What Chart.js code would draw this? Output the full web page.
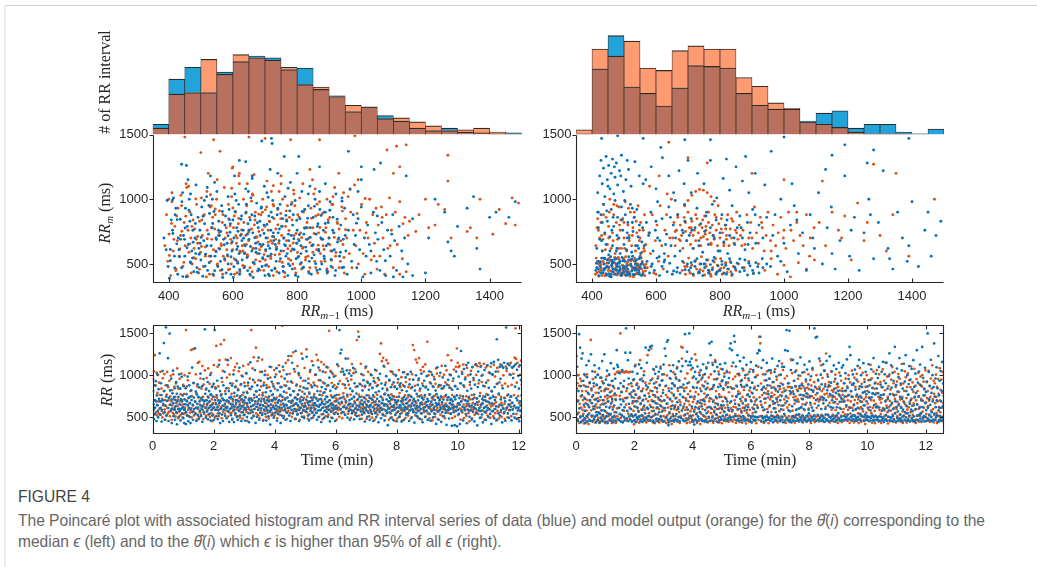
<!DOCTYPE html>
<html>
<head>
<meta charset="utf-8">
<script src="https://cdn.jsdelivr.net/npm/chart.js"></script>
<style>
html,body{margin:0;padding:0;background:#fff;}
#page{position:relative;width:1037px;height:567px;overflow:hidden;background:#fff;}
#topline{position:absolute;left:4px;top:5px;right:0;height:1px;background:#cfcfcf;}
#leftline{position:absolute;left:4px;top:5px;width:2px;bottom:0;background:#ececec;}
#fig{position:absolute;left:0;top:0;width:1037px;height:480px;}
#fig canvas{position:absolute;left:0;top:0;}
.cap{position:absolute;left:18px;white-space:nowrap;font-family:"Liberation Sans Narrow","Liberation Sans",Arial,sans-serif;transform-origin:0 50%;}
#figlab{top:487px;font-size:17px;line-height:20px;color:#444;}
#l1{top:510px;font-size:16.5px;line-height:20px;color:#666;}
#l2{top:531px;font-size:16.5px;line-height:20px;color:#666;}
</style>
</head>
<body>
<div id="page">
  <div id="topline"></div>
  <div id="leftline"></div>
  <div id="fig"></div>
  <div class="cap" id="figlab">FIGURE 4</div>
  <div class="cap" id="l1">The Poincaré plot with associated histogram and RR interval series of data (blue) and model output (orange) for the <i>θ̂</i>(<i>i</i>) corresponding to the</div>
  <div class="cap" id="l2">median <i>ϵ</i> (left) and to the <i>θ̂</i>(<i>i</i>) which <i>ϵ</i> is higher than 95% of all <i>ϵ</i> (right).</div>
</div>
<script>
// ================= DATA =================
// histogram bins (RR interval, ms): bin centres
const binCenters = [375,425,475,525,575,625,675,725,775,825,875,925,975,1025,1075,1125,1175,1225,1275,1325,1375,1425,1475];
// histogram counts
const histLeftData   = [13,70,85,53,79,92,99,97,82,84,57,49,29,35,24,17,8,5,8,3,2,1,2];
const histLeftModel  = [8,51,53,95,76,101,97,94,85,63,60,48,37,35,20,21,16,11,5,6,8,3,1];
const histRightData  = [1,83,125,60,52,36,59,87,86,84,52,37,32,32,17,27,30,8,13,13,3,1,7];
const histRightModel = [6,108,99,118,84,81,106,112,108,108,72,61,40,33,16,13,9,3,1,1,1,0,0];

// tick labels
const poincareTicksX = [400,600,800,1000,1200,1400];
const poincareTicksY = [500,1000,1500];
const timeTicksX = [0,2,4,6,8,10,12];
const timeTicksY = [500,1000,1500];

// Poincaré points (RR_{m-1}, RR_m) in ms, as flat x,y lists estimated from the figure
const poincareLeftData = [
385,700,392,610,398,480,402,390,408,840,412,760,418,560,422,930,425,655,428,420,395,990,415,1010,405,525,420,880,430,700,
432,610,436,845,440,470,443,1050,446,720,450,560,452,930,455,400,458,790,461,650,464,1000,467,515,470,880,472,600,475,760,478,440,441,980,449,690,466,830,474,545,
482,700,485,1110,488,470,491,860,494,620,497,760,500,530,503,940,506,405,509,680,512,810,515,575,518,1020,521,450,524,730,527,890,484,580,498,660,511,990,526,510,
532,640,535,780,538,420,541,905,544,560,547,700,550,1060,553,480,556,830,559,615,562,750,565,950,568,395,571,690,574,540,577,870,536,1000,548,595,558,720,566,455,575,800,543,1130,
582,660,585,500,588,920,591,745,594,420,597,600,600,840,603,700,606,1040,609,530,612,780,615,635,618,960,621,455,624,720,627,870,583,570,592,810,601,395,610,990,619,580,628,680,605,1180,615,505,
632,760,635,470,638,640,641,900,644,550,647,810,650,690,653,420,656,1010,659,600,662,740,665,510,668,870,671,660,674,970,677,445,636,580,645,730,654,840,663,395,672,620,679,780,640,1080,660,1160,
682,580,685,720,688,930,691,480,694,650,697,800,700,410,703,700,706,1050,709,560,712,870,715,620,718,760,721,450,724,990,727,680,684,830,693,540,702,610,711,420,719,900,726,740,698,1100,716,1230,
732,650,735,520,738,880,741,740,744,430,747,960,750,600,753,790,756,480,759,700,762,1020,765,560,768,830,771,410,774,680,777,910,736,620,745,770,755,850,764,640,773,500,779,1130,
782,720,785,460,788,880,791,610,794,990,797,540,800,760,803,400,806,680,809,850,812,580,815,1060,818,470,821,730,824,920,827,630,786,800,799,660,813,510,828,780,
832,690,835,950,838,520,841,780,844,420,847,640,850,860,853,570,856,1000,859,730,862,450,865,810,868,600,871,920,874,700,877,500,840,1100,870,1060,
882,760,885,540,888,900,891,640,894,430,897,820,900,700,903,980,906,480,909,600,912,860,915,740,918,410,921,1040,926,670,
932,560,936,800,940,470,944,690,948,930,952,600,956,420,960,760,965,1080,970,520,975,880,978,650,
982,720,986,470,990,850,995,610,1000,940,1005,400,1010,700,1015,560,1020,800,1025,650,1030,430,1038,900,1044,740,1048,520,
1052,690,1058,450,1064,820,1070,610,1076,410,1082,760,1090,560,1098,880,1104,680,1110,450,1118,790,1126,600,1135,700,1145,500,
440,1270,455,1260,620,1300,640,1290,690,1450,720,1470,722,1430,760,1330,805,1330,870,1250,960,1370,1000,1250,1040,1230,1060,1280,1000,1150,1140,1180,740,1200,660,1180,530,1180,460,1150,800,1200,
1160,850,1200,430,1230,1000,1260,900,1270,670,1280,600,1290,560,1300,790,1330,930,1350,1020,1360,620,1370,460,1400,860,1420,900,1460,860,1480,980,1130,400,1100,400,1160,410,1210,700,
405,612,413,735,419,468,426,842,433,555,437,690,444,402,451,778,457,625,463,915,
469,508,476,668,483,812,489,436,495,575,501,705,507,868,513,482,519,640,525,952,
531,560,537,812,543,448,549,688,555,760,561,520,567,905,573,648,579,430,585,718,
589,842,594,555,598,672,603,478,607,905,612,612,616,752,621,420,625,845,629,530,
633,698,637,585,642,962,646,448,650,760,655,635,659,880,663,512,668,702,672,590,
676,818,680,462,684,652,689,940,693,548,697,735,702,488,706,805,710,640,714,408,
719,575,723,860,727,710,731,462,735,612,740,930,744,680,748,540,752,792,757,442,
761,648,765,875,769,580,773,730,778,485,782,960,786,615,790,695,795,412,799,838,
803,552,807,725,812,640,816,905,820,475,824,775,829,598,833,852,837,430,841,705,
846,545,850,648,854,945,858,502,863,790,867,612,871,458,875,875,880,690,884,560,
888,812,893,448,897,655,902,915,906,535,911,760,916,610,920,450,925,845,930,700,
935,590,940,985,945,475,950,720,412,995,468,1040,520,1090,585,1020,648,1060,710,1015,
772,1085,835,1040,888,1120,940,1010,990,1060,1050,870,1075,525,1095,730,1030,600,985,815
];
const poincareLeftModel = [
388,640,393,880,397,520,401,730,406,410,410,980,414,600,419,790,423,460,427,680,400,1000,425,870,
433,560,437,720,440,950,444,480,448,820,451,640,454,1120,457,410,460,760,463,590,466,900,469,700,473,500,476,840,479,620,438,1030,456,1090,470,430,
481,770,484,540,487,960,490,660,493,430,496,830,499,590,502,1010,505,720,508,480,511,880,514,630,517,400,520,760,523,1200,526,560,529,940,486,690,503,840,519,1060,
531,520,534,690,537,860,540,410,543,770,546,600,549,1000,552,500,555,720,558,910,561,450,564,640,567,820,570,560,573,1090,576,700,533,950,545,880,556,620,568,420,579,780,551,1150,
581,740,584,560,587,850,590,460,593,690,596,1020,599,610,602,780,605,420,608,900,611,660,614,520,617,810,620,1120,623,590,626,730,586,960,595,500,604,870,613,700,622,440,629,640,598,1240,618,1180,
631,600,634,820,637,480,640,720,643,950,646,560,649,680,652,860,655,410,658,770,661,1040,664,620,667,500,670,900,673,710,676,580,633,1000,642,650,651,760,660,440,669,840,678,670,645,1120,666,1190,
681,750,684,520,687,880,690,640,693,1000,696,450,699,790,702,600,705,940,708,700,711,480,714,830,717,560,720,1060,723,660,726,410,683,610,692,900,701,530,710,760,718,680,728,850,706,1140,725,960,
731,570,734,770,737,440,740,920,743,660,746,520,749,850,752,720,755,1000,758,600,761,400,764,790,767,680,770,950,773,540,776,860,733,690,744,1060,757,480,766,910,778,640,750,1180,
781,600,784,840,787,500,790,720,793,950,796,430,799,660,802,880,805,560,808,1010,811,740,814,460,817,620,820,900,823,780,826,530,789,1070,804,690,818,1120,829,690,
831,820,834,560,837,700,840,470,843,930,846,640,849,780,852,1040,855,520,858,870,861,610,864,430,867,740,870,980,873,580,876,690,848,1150,866,880,
881,640,884,900,887,520,890,780,893,1000,896,440,899,700,902,860,905,600,908,960,911,470,914,740,917,1090,920,560,925,820,928,690,
931,770,935,520,939,940,943,650,947,430,951,850,955,700,959,1020,963,580,967,900,971,470,975,760,979,1110,945,1050,
983,640,987,890,991,500,996,760,1001,960,1006,580,1011,420,1016,820,1021,700,1026,1000,1031,530,1036,880,1041,660,1046,930,1049,460,
1053,800,1058,560,1063,940,1068,700,1073,420,1078,880,1083,620,1088,1010,1094,760,1100,470,1106,900,1112,650,1120,980,1128,540,1136,860,1146,720,
450,1480,540,1460,560,1370,650,1480,700,1470,780,1460,870,1460,980,1490,1110,1410,1140,1420,1270,1340,1080,1380,930,1200,990,1150,1100,1200,1270,1140,500,1360,600,1250,620,1200,750,1120,840,1230,1120,1250,
1180,880,1200,1000,1210,780,1230,800,1240,960,1260,920,1280,700,1330,750,1340,780,1360,700,1370,1000,1410,730,1430,920,1450,810,1470,1010,1480,800,1490,970,1150,830,1170,750,1140,440,1120,420,
402,565,409,812,416,690,422,448,429,930,434,615,441,752,447,512,453,868,459,402,
465,655,472,790,478,548,484,1002,490,712,496,458,502,635,508,872,514,560,520,695,
527,420,533,780,539,610,545,925,551,492,557,742,563,655,569,880,575,528,581,610,
586,455,591,795,595,660,600,932,604,540,609,718,613,432,618,852,622,598,627,762,
631,488,636,648,640,892,645,572,649,745,653,470,658,985,662,618,667,802,671,530,
675,705,680,885,684,452,688,632,692,762,697,572,701,918,705,495,710,668,714,825,
718,542,723,712,727,948,731,468,736,632,740,802,745,575,749,890,754,512,758,698,
762,432,767,842,771,618,775,758,780,528,784,975,788,662,793,465,797,735,801,588,
806,862,810,498,814,702,819,628,823,918,827,552,832,780,836,442,840,665,845,852,
849,590,853,735,858,470,862,962,866,645,871,782,875,518,879,890,884,612,888,745,
893,462,897,842,902,648,907,528,911,960,916,705,921,588,926,812,931,470,936,678,
941,908,946,550,951,765,410,1050,462,1100,530,1035,596,1085,662,1030,726,1105,
790,1040,856,1080,912,1020,965,1075,1015,740,1040,560,1065,860,1090,640,1012,1005,1130,810
];
const poincareRightData = [
412,450,418,520,422,410,426,480,430,545,434,432,438,500,441,465,445,418,448,530,452,470,455,405,458,555,461,490,464,440,467,515,470,460,473,420,476,540,479,480,
482,430,485,505,488,455,491,415,494,550,497,470,500,440,503,520,506,410,509,485,512,460,515,530,518,425,521,500,524,445,527,560,530,470,533,415,536,525,539,455,
542,490,545,430,548,540,551,470,554,410,557,505,416,470,428,430,440,540,452,425,464,505,476,450,488,520,500,480,512,425,524,535,536,450,548,420,460,400,495,430,
415,620,420,780,424,690,428,880,432,600,436,960,440,740,444,650,448,830,452,570,456,710,460,920,464,640,468,790,472,990,476,600,480,860,484,700,488,580,492,940,
496,760,500,650,504,880,508,610,512,820,516,700,520,960,524,590,528,750,532,860,536,640,540,920,544,710,548,800,552,580,556,670,432,820,456,600,478,720,502,990,
526,820,546,620,418,900,466,860,510,740,
418,1050,424,1180,428,1300,432,1120,436,1240,440,1020,444,1330,448,1150,452,1260,456,1080,460,1200,464,1310,468,1040,472,1170,476,1280,480,1110,486,1220,492,1340,498,1060,506,1150,
514,1230,522,1100,534,1290,548,1180,560,1120,
565,470,572,520,580,430,588,500,595,450,603,545,611,410,619,480,627,530,635,440,643,505,651,420,659,560,667,470,675,430,683,520,691,455,698,500,610,555,655,445,
563,640,570,820,577,720,584,900,591,600,598,760,605,980,612,680,619,850,626,580,633,730,640,940,647,640,654,800,661,700,668,880,675,600,682,760,689,960,696,680,
600,830,630,650,660,990,690,830,580,740,
568,1150,585,1250,600,1080,620,1320,640,1180,655,1050,672,1220,688,1120,700,1300,615,1400,
703,450,710,510,716,420,722,480,728,540,734,440,740,500,746,410,752,470,758,530,764,430,770,495,776,455,782,550,788,420,794,485,800,450,806,520,812,430,818,490,
824,460,830,540,838,420,846,475,854,505,862,440,870,470,878,530,886,415,894,485,902,450,912,510,922,430,934,470,946,500,
704,720,710,850,716,620,722,780,728,930,734,680,740,810,746,590,752,750,758,900,764,650,770,780,776,960,782,700,788,840,794,600,800,740,806,880,812,670,818,800,
824,580,830,720,838,950,846,650,854,780,862,870,870,700,878,610,886,820,894,740,902,920,912,660,922,800,934,700,946,860,
710,1050,730,1200,750,1120,770,1300,790,1010,810,1160,830,1070,850,1250,870,1140,890,1050,910,1200,940,1110,
958,480,965,720,972,880,980,560,990,1000,1000,660,1010,440,1020,800,1032,950,1045,580,1058,740,1070,450,1082,880,1095,620,1108,1050,1120,500,1135,780,1148,940,1160,460,1175,680,
1190,1180,1205,560,1220,860,1235,450,1250,740,1265,1000,1280,540,1295,820,1310,1220,1325,620,1340,460,1355,900,1370,700,1385,520,1400,980,1420,480,1440,760,1460,560,1475,720,1490,830,
1260,1280,1130,1230,
430,1470,480,1490,560,1470,690,1460,770,1460,1000,1480,1390,1470,1190,1420,1280,1380,960,1370,880,1330,1150,1340,820,1310,
420,460,426,512,433,430,439,545,446,478,452,508,459,420,465,462,471,535,478,498,
484,445,490,412,497,525,503,468,509,440,515,555,521,488,528,418,534,470,540,532,
546,450,553,498,559,425,414,505,437,452,462,528,486,478,511,415,536,498,549,548,
430,680,446,910,462,760,478,620,494,840,510,700,526,930,542,640,558,780,450,1100,
470,1250,490,1180,510,1300,708,470,722,520,736,432,750,500,764,452,778,525,792,440,
806,495,820,420,834,510,848,462,862,538,876,448,890,505,904,425,918,478,932,540,
712,760,734,640,756,870,778,720,800,600,822,840,844,700,866,780,888,650,910,880,
585,480,625,515,665,438,605,700,645,860,685,740,990,520,1040,840,1090,700,1150,580,
1210,760,1270,880,1330,540,1390,640,1450,900,1025,1120
];
const poincareRightModel = [
411,420,415,470,419,520,423,440,427,495,431,410,435,545,439,465,443,425,447,505,451,450,455,530,459,410,463,480,467,440,471,550,475,470,479,415,483,510,487,450,
491,430,495,490,499,540,503,420,507,470,511,515,515,440,519,405,523,485,527,455,531,525,535,420,539,470,543,500,547,435,551,560,555,460,559,415,563,490,567,445,
413,545,421,405,429,465,437,500,445,410,453,475,461,520,469,420,477,455,485,535,493,410,501,460,509,500,517,420,525,470,533,545,541,430,549,480,557,520,565,410,
425,520,449,480,473,505,497,455,521,525,545,465,569,500,481,430,505,555,529,400,
412,640,416,780,420,900,424,700,428,820,432,600,436,960,440,730,444,860,448,650,452,790,456,1000,460,620,464,740,468,880,472,580,476,820,480,690,484,940,488,760,
492,620,496,850,500,700,504,980,508,600,512,800,516,720,520,900,524,640,528,780,532,860,536,600,540,740,544,950,548,680,552,820,556,590,560,760,564,880,568,650,
418,850,430,720,442,610,454,900,466,680,478,950,490,840,502,620,514,930,526,720,538,830,550,700,562,620,434,690,486,800,
573,470,578,740,583,580,588,880,593,430,598,680,603,800,608,520,613,950,618,640,623,460,628,760,633,880,638,560,643,700,648,1000,580,1100,610,1180,635,1040,600,420,
652,700,656,820,660,640,664,760,668,880,672,690,676,800,680,720,684,620,688,860,692,750,696,680,700,900,704,780,708,650,712,830,716,720,720,760,724,680,728,850,
732,740,736,800,740,640,744,780,748,710,752,870,756,760,760,690,764,820,768,740,772,660,776,800,780,720,784,880,788,760,792,640,796,810,800,700,804,850,808,740,
812,660,816,800,820,720,824,880,828,640,832,770,836,700,840,830,844,660,848,760,852,900,856,690,860,800,864,720,868,640,710,780,746,840,782,690,818,770,754,730,
682,450,687,510,692,420,697,480,702,545,707,430,712,490,717,410,722,525,727,460,732,430,737,500,742,555,747,445,752,415,757,480,762,530,767,440,772,405,777,470,
782,515,787,430,792,490,797,450,802,540,807,420,812,470,817,505,822,435,827,460,832,520,837,410,842,480,850,450,858,500,
700,990,712,1030,724,1060,736,1075,748,1070,760,1050,772,1020,782,985,690,950,794,950,
872,760,878,650,884,880,890,700,896,820,902,620,908,940,914,740,920,660,926,860,932,780,938,600,944,720,950,900,958,680,966,800,974,640,982,740,990,860,998,700,
1006,620,1014,900,1022,760,1030,680,1040,820,1050,720,1060,640,1070,880,1082,700,1094,780,
876,470,890,520,905,430,920,500,940,450,960,540,980,420,1000,490,1020,400,1045,510,1070,460,1095,530,
1110,820,1130,640,1150,900,1170,760,1190,870,1210,530,1230,970,1250,680,1280,1270,1300,720,1340,880,1350,1200,1390,560,1470,1000,1120,1140,
640,1440,700,1320,760,1280,900,1200,1000,1150,
416,432,422,498,428,452,434,520,440,410,446,478,452,540,458,445,464,505,470,425,
476,490,482,550,488,462,494,418,500,528,506,448,512,492,518,415,524,538,530,460,
536,508,542,425,548,485,554,545,560,440,566,470,
420,760,436,880,452,700,468,960,484,620,500,820,516,680,532,900,548,760,564,600,
660,750,676,680,692,820,708,740,724,880,740,700,756,790,772,650,788,860,804,770,
820,690,836,850,852,740,668,860,716,620,764,900,812,640,
690,480,706,430,722,520,738,455,754,500,770,420,786,540,802,465,818,510,834,440,
900,700,930,820,960,600,1000,760,1040,900,1080,560,1180,700,1260,820,1320,600
];

// RR interval series (ms) for the time plots, estimated from the figure
const rrLeftData = [
812,655,590,478,702,880,615,540,930,688,455,760,1010,642,575,498,835,720,1262,690,
530,612,905,765,448,588,1050,702,660,1384,812,560,470,640,1572,745,520,695,880,1204,
610,455,730,1498,820,650,575,960,710,430,602,785,1055,668,512,740,590,845,470,705,
630,918,560,780,415,690,865,598,742,505,1012,655,578,840,462,715,600,982,688,545,
760,625,488,870,590,
430,712,590,655,845,418,560,775,690,520,985,640,452,730,612,880,505,668,745,430,
590,820,705,1092,562,648,470,910,735,598,1322,685,540,805,612,455,770,660,892,528,
615,742,480,855,690,575,1020,640,512,730,598,870,445,705,632,955,560,688,1548,780,
612,495,840,702,568,660,920,475,735,608,812,540,690,1005,625,460,772,585,860,650,
520,745,612,898,470,
1540,705,588,842,655,512,760,935,620,478,700,582,1125,668,545,812,430,690,758,602,
968,532,725,640,455,880,705,590,1042,660,515,778,612,845,488,702,625,1180,570,690,
812,445,735,598,905,660,525,742,610,878,480,715,652,1010,585,442,790,628,860,548,
705,672,935,505,758,615,468,822,690,575,1090,640,520,748,602,895,455,712,630,988,
560,680,795,525,702,
612,870,458,735,590,1022,668,502,790,625,912,548,705,440,842,675,1155,580,722,630,
488,865,702,560,945,645,515,768,598,1062,690,432,810,625,742,505,880,660,588,1210,
712,470,825,640,552,935,690,605,1040,528,760,642,458,880,715,590,1005,672,540,798,
615,460,850,702,578,960,632,510,745,688,1102,565,412,812,650,590,922,705,535,772,
620,868,495,730,605,
980,552,712,640,1085,590,458,822,672,540,905,705,620,1045,568,768,432,690,858,612,
520,745,1102,660,492,805,628,960,585,710,470,875,648,1012,552,735,610,1230,690,520,
842,615,768,455,925,670,588,1150,702,545,812,640,1075,598,730,480,1290,665,572,890,
712,530,768,642,1025,590,455,822,685,612,970,548,740,660,505,1198,705,580,852,625,
490,778,640,935,568,
710,1220,598,842,672,520,905,645,462,780,690,1062,575,735,612,488,858,702,560,1120,
640,745,525,880,668,598,1008,552,722,640,470,812,695,580,1092,625,505,768,650,940,
588,715,442,860,672,610,1045,538,790,655,492,902,712,578,835,620,1100,560,742,680,
505,880,635,588,972,702,450,815,660,565,1035,612,738,490,862,648,590,985,540,755,
628,455,842,690,602,
765,1130,612,540,898,672,1540,725,1262,598,1305,682,1078,560,1045,742,620,1012,885,530,
1200,690,612,1060,768,495,932,645,572,1022,705,468,842,660,588,995,720,545,812,632,
1088,580,745,475,905,668,602,1038,552,782,640,512,868,712,590,1460,625,740,478,892,
655,568,1015,702,532,820,648,598,942,560,735,680,448,875,612,1105,580,762,640,505,
912,690,552,828,618,
730,468,895,642,575,1002,712,540,848,622,760,455,930,680,598,1065,548,795,652,502,
872,720,585,968,635,440,810,690,562,1018,612,745,488,902,668,590,842,705,525,1112,
640,772,462,885,655,578,990,712,548,822,628,405,765,690,602,945,558,732,660,492,
858,712,580,1040,622,750,470,915,642,588,860,705,528,1002,675,612,452,838,690,565,
955,618,745,505,880,
642,538,905,690,612,448,822,705,580,1035,652,738,470,868,620,592,975,712,530,810,
668,602,1012,548,765,640,455,892,705,582,1040,628,742,498,858,672,590,948,560,720,
642,435,818,690,605,1000,552,778,635,512,885,702,575,962,620,748,480,842,668,598,
1020,545,730,652,440,875,710,585,935,618,765,502,855,680,572,990,642,720,468,830,
695,610,1048,540,772,
628,458,902,685,572,1008,650,742,498,862,612,588,952,705,540,818,668,420,775,642,
1095,568,730,655,470,882,702,588,1030,615,748,445,842,676,560,975,628,710,512,868,
640,595,1112,552,765,632,410,890,705,582,945,612,738,485,852,668,598,1002,542,715,
650,398,828,690,612,962,560,742,628,405,870,712,575,1045,618,760,392,838,665,588,
985,540,728,650,418,
905,1290,688,572,1018,625,748,462,880,1075,612,590,952,702,538,1122,660,428,815,692,
1150,580,742,630,505,920,1010,588,842,640,472,1098,715,565,968,622,770,450,888,655,
602,1130,548,725,678,402,860,1045,585,940,610,752,492,1102,648,575,995,532,718,660,
438,875,702,610,1062,560,745,625,468,912,690,580,1118,612,765,505,850,678,592,1025,
540,730,1145,420,808,
665,1008,572,742,1160,488,860,705,598,1045,630,1430,468,902,1185,545,782,640,1100,520,
958,712,585,1118,642,438,845,1090,602,1150,560,728,688,458,1570,1082,612,1138,545,
770,650,492,1120,702,585,1005,625,748,462,1095,672,590,968,540,1110,638,495,865,1132,
612,728,480,1065,702,580,995,615,840,452,1120,690,575,942,640,
760,512,905,688,598,1040,625,452,872,712,560,980,640,735,488,850,672,602,1015,548,
702,585,918,640,478,1030,695,560,862,612
];
const rrLeftModel = [
952,1048,612,532,1240,705,878,560,1032,648,520,790,1005,688,545,912,602,765,1042,530,
688,842,575,720,498,965,640,548,812,1015,592,705,468,880,635,522,770,1040,610,545,
858,702,565,935,648,512,748,995,590,688,470,822,640,552,1012,715,530,865,612,590,
742,508,902,668,548,1082,635,710,488,840,602,565,958,690,522,775,648,1020,540,708,
612,498,885,655,540,
780,1000,615,552,1540,702,868,525,648,940,590,732,512,1025,668,555,812,1302,610,498,
752,1310,640,572,905,522,1320,688,548,1012,612,785,468,868,1148,598,735,502,1160,652,
560,962,710,530,842,615,1110,585,742,478,890,655,540,1058,700,612,828,515,968,640,
582,745,1082,532,680,612,898,505,765,642,1030,548,712,590,452,875,668,530,1122,618,
740,498,855,672,1350,
590,732,1102,545,868,640,512,1180,702,598,1370,620,775,488,920,1052,568,705,1420,632,
542,812,1188,690,580,972,612,1125,508,845,672,560,1010,725,598,1205,548,780,635,470,
902,688,572,1060,615,748,1098,530,865,652,592,1140,705,512,835,620,1048,582,730,662,
495,885,700,558,998,628,765,482,1112,645,590,912,532,742,670,610,1025,565,802,650,
458,878,1130,595,725,
612,960,548,835,1540,702,588,1082,640,512,1215,732,598,915,662,1330,545,808,625,1170,
688,525,942,610,765,492,1042,655,580,868,722,1188,548,790,636,470,912,698,575,1052,
628,742,505,882,664,592,1005,552,728,640,485,858,705,580,972,612,1098,522,762,690,
552,895,638,710,1062,518,842,672,595,1010,560,735,628,488,905,688,572,1120,605,752,
528,862,650,590,985,
1590,705,582,1062,645,512,880,728,602,1148,560,792,640,478,925,1180,575,842,612,1018,
690,548,762,1230,632,505,912,688,1275,570,810,655,1045,598,738,480,875,662,590,1110,
540,772,628,1002,585,720,470,868,698,612,1258,552,805,640,935,592,732,508,1088,668,
575,842,625,1310,558,745,690,482,960,612,798,535,1040,682,598,882,640,1168,552,725,
662,498,912,610,775,
585,1005,640,732,1245,552,868,1180,628,502,942,712,1060,580,810,648,1158,535,762,690,
478,915,618,1128,572,798,655,1035,512,745,680,875,598,1092,625,530,1530,702,588,1052,
642,760,495,908,668,575,1015,612,738,545,882,690,602,995,558,722,640,472,860,708,
585,1110,615,768,505,932,652,590,1040,548,730,670,488,895,622,785,560,1005,640,715,
528,850,675,598,962,
612,748,1200,542,885,662,598,1060,625,770,492,948,1135,575,812,648,1025,560,738,690,
1072,528,862,612,1420,705,585,1520,640,768,520,902,678,592,1138,615,745,482,875,660,
578,1002,622,735,548,860,1088,598,712,655,480,925,630,572,1040,688,758,512,880,642,
590,1010,552,728,670,495,852,705,620,968,575,742,645,472,912,688,560,1055,612,768,
530,882,650,598,945,
642,1255,580,1380,612,1168,728,540,1208,662,595,1102,640,782,515,912,1180,575,840,650,
1142,598,755,470,935,688,612,1048,545,772,630,498,890,712,580,1015,620,745,458,868,
675,598,995,548,740,652,485,912,702,570,1062,612,788,505,858,640,588,978,552,725,
668,462,882,700,602,1038,575,760,625,492,920,665,545,1012,618,738,520,862,690,578,
952,630,755,482,845,
650,598,1012,1360,702,572,1302,640,875,522,1188,668,590,1152,612,748,495,942,1205,580,
818,645,1062,548,760,678,472,902,1100,612,1045,562,740,660,1130,508,865,632,580,1400,
688,545,1002,622,770,488,915,655,598,1038,578,732,648,462,870,712,590,982,545,755,
628,505,898,1082,585,1020,612,742,478,862,668,572,992,640,718,530,880,602,1112,655,
735,512,845,598,1008,
612,748,488,915,662,578,1058,640,735,1240,552,880,625,590,1010,705,542,845,1178,612,
765,490,932,650,588,1068,618,742,508,872,1102,575,1320,640,1150,528,1098,670,1112,602,
758,472,905,688,592,1042,555,718,1128,652,490,862,705,582,975,628,748,515,1088,640,
595,1000,548,725,660,452,885,712,575,1052,618,765,488,1098,668,590,942,610,735,530,
1125,652,600,1005,568,
722,1108,648,540,902,685,1145,575,788,622,1112,498,920,668,1005,580,748,1138,612,470,
868,705,1092,552,775,640,1120,520,940,682,1035,598,722,655,492,1102,628,815,572,1010,
640,755,512,1125,660,598,985,548,738,680,462,895,1088,575,1045,622,768,488,915,650,
1132,560,742,672,505,878,1098,612,1000,545,732,660,478,902,1105,590,1052,615,758,500,
868,1140,640,585,1012,
655,742,1148,512,885,672,1090,598,1018,628,765,1210,1560,1195,540,912,1148,610,752,480,
1102,668,585,1005,642,1175,518,888,700,1060,575,742,1128,662,492,1000,1098,612,995,548,
732,1042,685,990,600,855,1008,640,728,1005,565,812,990,702,612,1020,548,780,1010,665,
592,1000,640,488,995,700,
578,1022,652,742,512,868,690,592,998,615,742,488,905,662,570,1030,620,748,512,885,
640,712,1002,558,822,675,590,945,618,760,470,888,655,602,1015,548,735,680,512,902
];
const rrRightData = [
1000,472,1102,538,690,455,812,1490,605,1330,498,872,440,1200,760,1262,515,935,462,648,
1012,488,575,720,430,866,1120,512,978,655,448,790,532,1172,620,470,915,705,458,1250,
842,520,668,1048,452,760,598,905,478,1120,630,505,975,712,442,560,882,525,1005,688,
465,790,1082,548,615,438,858,742,495,972,580,1170,460,705,525,905,655,1250,482,830,
570,445,948,625,508,1055,760,430,688,885,540,1008,612,470,798,530,1145,665,455,932,
718,498,592,870,442,1080,640,515,782,960,460,705,558,1300,1125,482,1100,845,612,468,
1025,540,712,905,450,652,798,520,1062,585,438,872,690,505,935,618,462,1270,1560,728,
488,845,575,1180,452,962,660,510,780,1270,470,598,905,535,740,445,1042,688,512,818,
952,462,630,1108,525,770,440,690,885,498,1020,612,475,842,565,1130,505,728,948,455,
665,1085,520,812,448,590,930,708,482,1002,638,462,758,545,1330,880,495,1150,612,470,
855,598,1300,512,745,1340,458,940,622,1350,505,812,690,460,1075,575,902,440,760,1018,
532,668,1102,485,845,618,962,452,735,1042,560,478,885,705,1082,512,630,935,468,1010,
580,790,1128,448,702,1320,610,1230,875,498,1400,662,1420,470,405,438,812,545,968,718,
485,1050,598,842,455,905,640,1120,512,770,448,882,620,1012,475,725,958,538,1082,680,
462,845,598,1165,505,935,452,772,645,1048,490,860,580,1110,742,470,890,628,455,812,
1490,532,1168,700,462,1280,905,590,1120,488,1500,1160,742,1120,515,1200,628,470,1088,860,
445,985,568,412,745,1040,620,470,958,535,852,452,1105,690,508,925,598,475,1002,672,
560,1060,482,812,630,458,972,705,1132,520,868,455,690,1015,585,462,835,1082,548,760,
445,902,1150,622,505,1380,725,458,1240,610,1400,838,498,1125,682,455,882,562,1048,620,
1160,485,742,952,528,1098,660,440,860,598,1012,462,740,1132,502,872,645,478,928,598,
1070,515,845,642,468,985,562,1145,470,722,912,525,1038,688,462,858,615,490,968,578,
1320,498,1380,690,470,1300,842,585,1152,505,1470,1400,660,515,1105,748,462,868,1240,598,
775,482,1018,640,455,1168,720,508,885,570,942,462,1080,665,512,1210,478,862,612,455,
1002,698,470,1125,585,878,462,772,620,962,518,1042,745,458,852,1158,495,690,440,910,
785,512,1062,598,470,842,650,505,978,565,462,1115,712,498,1262,612,875,505,1300,1290,
1460,688,458,1088,832,512,620,1180,485,862,448,792,590,498,1012,722,466,940,1148,505,
880,560,470,775,1058,492,958,640,460,1060,748,518,852,1200,478,688,442,920,605,505,
1040,668,462,838,560,498,985,712,458,1112,805,512,645,1170,488,868,452,702,1008,595,
470,752,1102,505,890,440,640,1100,538,812,1300,462,745,1540,690,488,1290,905,582,455,
1530,812,570,468,1062,795,438,852,630,512,1185,462,778,935,498,705,1042,455,868,585,
528,690,1142,482,812,458,998,602,535,872,466,1215,768,492,620,886,448,1032,715,512,
762,598,470,1125,842,488,650,948,452,785,1068,520,738,462,892,590,545,1165,478,752,
672,455,988,828,502,615,1085,468,805,580,512,1560,478,862,1450,705,455,1460,788,528,
945,640,470,1200,835,492,712,1008,458,598,892,515,740,462,1132,665,488,725,1052,445,
868,598,532,702,1172,475,822,462,985,640,520,880,452,1225,775,498,620,912,462,1045,
702,515,755,612,478,1118,838,492,680,958,448,790,1075,522,618,465,902,815,548,1150,
482,760,682,458,995,600,505,722,1092,470,812,1120,462,690,512,905,745,470,1025,818,
498,642,1190,468,850,532,760,955,482,1340,612,1240,505,812,462,745,888,515,1010,580,
478,905,652,520,1068,462,830,598,495,948,770,458,1112,612,505,742,1185,470,868,540,
688,462,1002,735,512,862,598,792,1145,505,642,455,920,805,530,1042,468,772,690,498,
512,868,612,462,1132,798,505,725,458,945,580,490,1072,738,520,850,462,785,1205,498,
642,455,902,770,512,1018,620,470,842,618,498,968,785,462,1100,615,510,735,458,890,
762,505,1042,578,468,860,1160,492,772,445,
598,1012,470,688,905,525,1150,612,458,842,720,505,990,580,1262,462,775,640,498,1120,
852,455,672,1030,512,598,935,470,760,1340,545,690,448,882,620,1080,492,805,568,460,
978,655,1205,488,742,530,902,612,465,1058,720,448,842,590,512,1138,675,470,925,560,
1240,498,812,632,455,1002,548,768,468,895,1110,520,660,452,948,705,590,1075,480,830,
572,462,1180,640,508,862,735,445,1020,598,788,470,1300,655,515,912,462,742,1045,530,
612,1128,482,880,545,700,455,1338,620,492,968,760,512,842,450,1090,668,505,802,585,
458,925,1500,612,482,1040,715,530,872,462,648,1185,505,790,560,452,1002,690,470,858,
1380,540,745,465,962,620,498,1095,702,525,845,448,1230,582,760,470,935,612,512,1050,
690,455,812,1160,498,630,902,470,752,1425,535,668,458,1018,585,798,492,1120,640,505,
880,462,1008,720,548,615,452,945,682,1265,470,832,590,512,1148,705,460,868,620,995,
505,742,1340,588,468,912,640,1240,495,780,560,452,1030,672,520,890,615,470,1178,735,
458,842,602,1012,485,765,538,930,462,1105,650,508,872,598,470,1060,722,452,818,575
];
const rrRightModel = [
1230,842,905,478,702,1002,556,875,432,660,960,512,748,615,930,455,812,588,462,705,
540,880,425,735,622,998,478,668,812,452,580,1012,705,498,862,640,418,775,545,905,
690,460,1422,582,820,505,742,448,955,628,515,868,472,710,598,1040,435,792,655,520,
888,462,615,728,1008,492,560,845,432,702,972,538,648,455,812,585,478,930,660,512,
905,448,702,582,812,495,745,430,668,842,512,988,552,722,448,835,690,512,1005,745,
462,882,628,478,540,745,812,432,688,935,505,620,468,762,848,560,1012,498,715,432,
762,445,1036,605,512,1044,842,468,1040,612,755,1500,492,1042,805,528,1038,712,445,1040,
860,575,1032,728,488,1046,650,812,1040,462,735,1038,542,892,1035,615,478,1042,768,520,
598,798,870,450,665,508,942,575,732,415,812,690,462,1125,532,768,620,448,905,688,
488,725,578,862,512,435,742,1180,655,475,812,590,962,525,698,442,842,615,505,1048,
758,462,588,912,492,720,438,830,612,1240,512,692,455,785,548,902,470,645,818,1320,
498,705,572,960,442,768,615,515,1062,688,428,855,540,742,472,918,605,455,802,660,
532,985,470,712,598,438,878,645,1105,505,752,462,690,565,942,448,825,612,512,1012,
702,458,580,872,495,765,432,660,998,522,738,470,615,845,448,1120,562,712,452,958,
630,505,792,418,688,902,538,1035,472,752,598,455,868,642,512,975,465,732,588,1098,
445,815,620,498,942,562,705,432,858,678,512,1340,1200,1330,605,468,738,845,522,660,
452,962,588,725,488,852,618,430,1022,545,775,470,690,915,515,648,438,812,572,1068,
492,742,605,448,968,682,522,850,462,718,590,1250,478,800,1180,548,665,432,912,610,
505,772,455,1032,625,560,842,418,705,948,538,662,472,880,598,455,1002,712,512,782,
445,652,925,505,738,1098,478,612,852,438,765,568,975,492,690,452,832,622,1010,548,
720,462,598,1150,515,858,435,702,952,580,478,1180,665,538,812,452,725,598,962,488,
645,1045,505,772,438,895,612,552,1078,468,742,618,428,942,690,512,825,572,455,1022,
740,495,612,885,452,718,1052,532,648,478,912,585,445,798,1032,515,672,462,858,605,
498,1110,568,752,448,955,625,505,842,472,702,985,538,618,432,878,745,512,1015,590,
462,808,655,518,1000,442,782,598,928,488,692,552,862,435,742,612,1058,505,825,468,
578,968,492,715,638,425,885,552,762,1012,478,652,528,938,448,818,588,465,1072,705,
512,795,438,912,615,548,1040,472,738,598,455,862,688,505,982,562,428,825,642,1002,
615,1100,468,1460,738,1380,512,902,648,445,825,765,492,1012,582,855,432,718,938,505,
672,452,842,782,518,1048,598,468,808,735,428,962,625,495,878,712,455,1028,562,792,
482,745,918,512,658,440,855,768,498,1072,605,818,462,728,948,525,682,438,872,742,
488,1002,572,835,458,765,905,508,638,1140,798,472,1062,588,845,445,712,962,518,668,
432,822,752,495,992,615,862,468,728,905,512,648,442,858,775,1190,1180,492,1025,578,
808,462,738,932,515,662,435,872,748,498,1058,595,828,458,715,958,528,685,448,845,
765,505,995,612,842,475,722,902,522,655,438,868,758,492,1038,585,815,465,745,925,
512,672,445,852,772,502,1012,602,835,478,735,945,518,648,432,878,752,495,1065,575,
822,462,728,918,525,662,442,858,768,505,1002,612,838,470,718,935,512,688,448,862,
1170,495,742,1120,528,812,462,968,705,512,838,445,1060,772,492,895,622,1260,468,782,
1012,535,858,452,745,918,505,672,438,872,758,498,1048,588,822,462,735,528,805,672,
448,925,742,512,1008,585,848,468,715,892,502,658,432,862,775,488,1032,612,818,455,
742,935,518,685,442,845,768,560,712,598,905,462,688,812,535,960,478,625,748,512,
865,455,702,588,1002,472,768,620,432,915,542,688,810,498,1055,612,458,742,885,525,
640,438,972,705,518,862,590,455,748,1018,482,668,925,545,712,430,838,602,1088,478,
755,528,620,445,898,682,512,1030,570,795,462,712,952,498,640,418,862,738,552,1002,
468,815,662,505,942,588,738,452,880,622,1125,492,705,548,965,435,782,612,518,1045,
698,462,842,575,428,912,660,515,788,1062,472,632,898,502,742,448,1012,585,710,455,
920,540,675,432,858,722,498,1070,608,768,445,935,580,515,822,1152,478,702,640,462,
985,560,742,425,872,618,505,1010,695,452,830,578,948,488,662,1098,532,775,445,905,
612,478,1042,718,552,862,438,768,598,925,512,682,455,1015,640,802,470,958,535,712,
448,885,625,1135,498,742,568,432,902,688,520,815,1048,462,652,978,545,728,438,860,
590,1022,475,770,618,505,942,682,448,858,560,1105,722,492,638,915,528,450,802,665,
1078,462,745,590,878,432,702,955,518,648,812,470,1030,598,752,448,892,625,512,985,
545,718,442,868,1002,568,695,478,925,612,832,505,760,1060,452,678,540,918,728,488,
812,632,455,1052,698,522,875,445,742,962,580,505,842,1120,468,712,598,935,438,780,
528,905,668,472,1008,742,552,862,430,688,955,515,778,620,448,1085,702,560,828,475,
948,612,505,792,1038,455,668,895,540,722,435,862,615,1002,492,758,582,925,468,705,
1260,548,842,462,712,980,598,505,872,652,448,1028,765,520,688,910,472,615,845,558,
738,455,1012,632,520,868,442,795,948,578,492,712,1068,538,660,885,458,742,602,990
];

// ================= STYLE =================
const W = 1037, H = 480;
const AXIS = '#262626';
const DOT_BLUE = '#0072BD', DOT_ORANGE = '#D95319';
const H_BLUE = '#22A3DA', H_ORANGE = '#FF9B70', H_BOTH = '#B9715F', H_EDGE = '#2e2a28';
const YW = 60, XH = 30;
const L_COL = {l:152.7, r:521.7}, R_COL = {l:576, r:944};
const HIST_T = 30, HIST_B = 134.5, POIN_T = 134.5, POIN_B = 282.7, TIME_T = 325, TIME_B = 434;
const HIST_MAX = 132;

Chart.defaults.font.family = '"Liberation Sans", Arial, Helvetica, sans-serif';
Chart.defaults.font.size = 13;
Chart.defaults.color = AXIS;

// ================= helpers =================
const SERIF = '"Liberation Serif", "DejaVu Serif", "Times New Roman", serif';
function drawTitle(ctx, s){
  ctx.save();
  ctx.translate(s.x, s.y);
  if (s.rot) ctx.rotate(-Math.PI/2);
  ctx.fillStyle = AXIS;
  ctx.textBaseline = 'middle';
  ctx.textAlign = 'left';
  const fonts = s.parts.map(p => (p.i ? 'italic ' : '') + (p.sub ? '11px ' : '16px ') + SERIF);
  let w = 0;
  s.parts.forEach((p,k) => { ctx.font = fonts[k]; w += ctx.measureText(p.t).width; });
  let x = -w/2;
  s.parts.forEach((p,k) => { ctx.font = fonts[k]; ctx.fillText(p.t, x, p.sub ? 4 : 0); x += ctx.measureText(p.t).width; });
  ctx.restore();
}

const decoPlugin = {
  id: 'deco',
  afterDraw(chart, args, o){
    const ctx = chart.ctx, a = chart.chartArea;
    ctx.save();
    if (o.frame){
      ctx.strokeStyle = AXIS; ctx.lineWidth = 1.1;
      const L = Math.round(a.left) + 0.5, R = Math.round(a.right) - 0.5;
      const T = Math.round(a.top) + 0.5, B = Math.round(a.bottom) - 0.5;
      ctx.beginPath();
      if (o.frame === 'box') ctx.rect(L, T, R - L, B - T);
      else { ctx.moveTo(L, T); ctx.lineTo(L, B); ctx.lineTo(R, B); }
      ctx.stroke();
      const xs = chart.scales.x, ys = chart.scales.y, tl = 4;
      ctx.beginPath();
      xs.ticks.forEach(t => {
        const p = Math.round(xs.getPixelForValue(t.value)) + 0.5;
        ctx.moveTo(p, B); ctx.lineTo(p, B - tl);
        if (o.frame === 'box'){ ctx.moveTo(p, T); ctx.lineTo(p, T + tl); }
      });
      ys.ticks.forEach(t => {
        const p = Math.round(ys.getPixelForValue(t.value)) + 0.5;
        ctx.moveTo(L, p); ctx.lineTo(L - tl, p);
        if (o.frame === 'box'){ ctx.moveTo(R, p); ctx.lineTo(R - tl, p); }
      });
      ctx.stroke();
    }
    (o.titles || []).forEach(s => drawTitle(ctx, s));
    ctx.restore();
  }
};

function mkCanvas(){
  const c = document.createElement('canvas');
  c.width = W; c.height = H;
  c.style.width = W + 'px'; c.style.height = H + 'px';
  document.getElementById('fig').appendChild(c);
  return c;
}

function toTimeSeries(rr){ let t = 0; return rr.map(v => { t += v; return {x: t/60000, y: v}; }); }
function toPairs(flat){ const out = []; for (let i = 0; i + 1 < flat.length; i += 2) out.push({x: flat[i], y: flat[i+1]}); return out; }

function scatterChart(col, top, bottom, xr, yr, xt, yt, blue, orange, deco, xpad, rad){
  return new Chart(mkCanvas(), {
    type: 'scatter',
    data: { datasets: [
      {data: blue, backgroundColor: DOT_BLUE, pointRadius: rad, pointBorderWidth: 0, pointHoverRadius: 0},
      {data: orange, backgroundColor: DOT_ORANGE, pointRadius: rad, pointBorderWidth: 0, pointHoverRadius: 0}
    ]},
    options: {
      responsive: false, animation: false, events: [],
      layout: {padding: {left: col.l - YW, right: W - col.r, top: top, bottom: H - bottom - XH}},
      plugins: {legend: {display: false}, tooltip: {enabled: false}, deco: deco},
      scales: {
        x: {type: 'linear', min: xr[0], max: xr[1],
            afterFit: s => { s.height = XH; },
            afterBuildTicks: s => { s.ticks = xt.map(v => ({value: v})); },
            grid: {display: false, drawTicks: false}, border: {display: false},
            ticks: {padding: xpad, autoSkip: false, maxRotation: 0, callback: v => String(v)}},
        y: {type: 'linear', min: yr[0], max: yr[1],
            afterFit: s => { s.width = YW; },
            afterBuildTicks: s => { s.ticks = yt.map(v => ({value: v})); },
            grid: {display: false, drawTicks: false}, border: {display: false},
            ticks: {padding: 4.5, autoSkip: false, callback: v => String(v)}}
      }
    },
    plugins: [decoPlugin]
  });
}

function histChart(col, dataCounts, modelCounts, deco){
  const both = dataCounts.map((b,i) => Math.min(b, modelCounts[i]));
  const blueEx = dataCounts.map((b,i) => b > modelCounts[i] ? b - modelCounts[i] : null);
  const orangeEx = modelCounts.map((o,i) => o > dataCounts[i] ? o - dataCounts[i] : null);
  const bw = {top: 1.2, left: 0.7, right: 0.7, bottom: 0};
  return new Chart(mkCanvas(), {
    type: 'bar',
    data: { labels: binCenters.map(String), datasets: [
      {data: both, backgroundColor: H_BOTH, borderColor: H_EDGE, borderWidth: bw, stack: 's'},
      {data: blueEx, backgroundColor: H_BLUE, borderColor: H_EDGE, borderWidth: bw, stack: 's'},
      {data: orangeEx, backgroundColor: H_ORANGE, borderColor: H_EDGE, borderWidth: bw, stack: 's'}
    ]},
    options: {
      responsive: false, animation: false, events: [],
      layout: {padding: {left: col.l, right: W - col.r, top: HIST_T, bottom: H - HIST_B}},
      datasets: {bar: {barPercentage: 1, categoryPercentage: 1}},
      plugins: {legend: {display: false}, tooltip: {enabled: false}, deco: deco},
      scales: {
        x: {display: false, stacked: true},
        y: {display: false, stacked: true, min: 0, max: HIST_MAX}
      }
    },
    plugins: [decoPlugin]
  });
}

// titles
const tRRm = [{t:'RR', i:1}, {t:'m', i:1, sub:1}, {t:' (ms)'}];
const tRRm1 = [{t:'RR', i:1}, {t:'m', i:1, sub:1}, {t:'−1', sub:1}, {t:' (ms)'}];
const tTime = [{t:'Time (min)'}];
const tRR = [{t:'RR', i:1}, {t:' (ms)'}];

// ================= charts =================
histChart(L_COL, histLeftData, histLeftModel, {titles: [{x:106, y:82, rot:1, parts:[{t:'# of RR interval'}]}]});
histChart(R_COL, histRightData, histRightModel, {});

scatterChart(L_COL, POIN_T, POIN_B, [350,1500], [355,1500], poincareTicksX, poincareTicksY,
  toPairs(poincareLeftData), toPairs(poincareLeftModel),
  {frame: 'lb', titles: [{x:106, y:213, rot:1, parts:tRRm}, {x:337, y:312, parts:tRRm1}]}, 6, 1.45);
scatterChart(R_COL, POIN_T, POIN_B, [350,1500], [355,1500], poincareTicksX, poincareTicksY,
  toPairs(poincareRightData), toPairs(poincareRightModel),
  {frame: 'lb', titles: [{x:759, y:312, parts:tRRm1}]}, 6, 1.45);

scatterChart(L_COL, TIME_T, TIME_B, [0,12.1], [300,1600], timeTicksX, timeTicksY,
  toTimeSeries(rrLeftData), toTimeSeries(rrLeftModel),
  {frame: 'box', titles: [{x:108, y:380, rot:1, parts:tRR}, {x:337, y:461, parts:tTime}]}, 5, 1.35);
scatterChart(R_COL, TIME_T, TIME_B, [0,12.63], [300,1600], timeTicksX, timeTicksY,
  toTimeSeries(rrRightData), toTimeSeries(rrRightModel),
  {frame: 'box', titles: [{x:760, y:461, parts:tTime}]}, 5, 1.35);

// ================= caption fit =================
function fitCaption(){
  const l1 = document.getElementById('l1'), l2 = document.getElementById('l2'), fl = document.getElementById('figlab');
  [l1, l2, fl].forEach(e => e.style.transform = '');
  const f = 967 / l1.getBoundingClientRect().width;
  l1.style.transform = 'scaleX(' + f + ')';
  l2.style.transform = 'scaleX(' + f + ')';
  fl.style.transform = 'scaleX(' + (72 / fl.getBoundingClientRect().width) + ')';
}
fitCaption();
if (document.fonts && document.fonts.ready) document.fonts.ready.then(fitCaption);
</script>
</body>
</html>
